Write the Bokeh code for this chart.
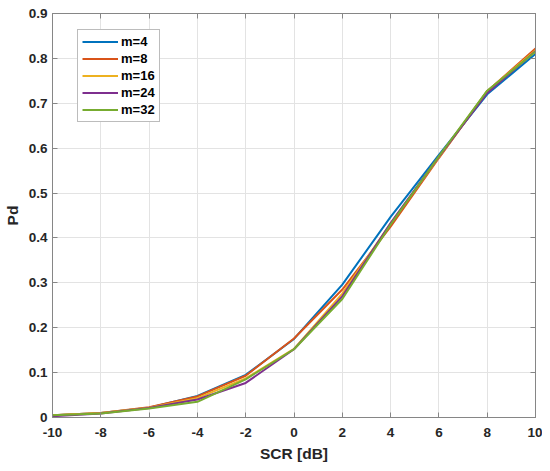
from bokeh.plotting import figure
from bokeh.models import LinearAxis, Range1d, FixedTicker, Legend, LegendItem, CustomJSTickFormatter
from bokeh.embed import file_html
from bokeh.resources import INLINE

scr = [-10, -8, -6, -4, -2, 0, 2, 4, 6, 8, 10]
pd_m4 = [0.005, 0.010, 0.022, 0.048, 0.095, 0.175, 0.296, 0.447, 0.585, 0.720, 0.810]
pd_m8 = [0.005, 0.010, 0.023, 0.047, 0.093, 0.176, 0.285, 0.425, 0.578, 0.727, 0.822]
pd_m16 = [0.005, 0.010, 0.022, 0.043, 0.087, 0.153, 0.276, 0.432, 0.580, 0.727, 0.818]
pd_m24 = [0.003, 0.009, 0.021, 0.040, 0.077, 0.152, 0.270, 0.433, 0.581, 0.723, 0.816]
pd_m32 = [0.005, 0.009, 0.020, 0.035, 0.085, 0.152, 0.264, 0.430, 0.582, 0.728, 0.815]
labels = ["m=4", "m=8", "m=16", "m=24", "m=32"]
colors = ["#0072BD", "#D95319", "#EDB120", "#7E2F8E", "#77AC30"]
series = [pd_m4, pd_m8, pd_m16, pd_m24, pd_m32]
xticks = [-10, -8, -6, -4, -2, 0, 2, 4, 6, 8, 10]
yticks = [0, 0.1, 0.2, 0.3, 0.4, 0.5, 0.6, 0.7, 0.8, 0.9]
xtick_labels = ["-10", "-8", "-6", "-4", "-2", "0", "2", "4", "6", "8", "10"]
ytick_labels = ["0", "0.1", "0.2", "0.3", "0.4", "0.5", "0.6", "0.7", "0.8", "0.9"]

FONT = "Liberation Sans"
TXT = "#262626"
AXC = "#868686"

p = figure(frame_width=483, frame_height=404, output_backend="svg",
           toolbar_location=None, x_range=Range1d(-10, 10), y_range=Range1d(0, 0.9),
           min_border_left=44, min_border_top=13, min_border_right=7, min_border_bottom=40)
p.outline_line_color = AXC
p.outline_line_width = 1
p.background_fill_color = "white"
p.border_fill_color = "white"

items = []
for lab, col, ys in zip(labels, colors, series):
    r = p.line(scr, ys, line_color=col, line_width=2)
    items.append(LegendItem(label=lab, renderers=[r]))

for ax in (p.xaxis[0], p.yaxis[0]):
    ax.major_label_text_font = FONT
    ax.major_label_text_font_style = "bold"
    ax.major_label_text_font_size = "13.5px"
    ax.major_label_text_color = TXT
    ax.axis_label_text_font = FONT
    ax.axis_label_text_font_style = "bold"
    ax.axis_label_text_font_size = "15.5px"
    ax.axis_label_text_color = TXT
    ax.axis_line_color = AXC
    ax.major_tick_line_color = AXC
    ax.major_tick_in = 5
    ax.major_tick_out = 0
    ax.minor_tick_line_color = None

p.xaxis[0].ticker = FixedTicker(ticks=xticks)
p.yaxis[0].ticker = FixedTicker(ticks=yticks)
p.xaxis[0].major_label_overrides = {t: s for t, s in zip(xticks, xtick_labels)}
p.yaxis[0].major_label_overrides = {t: s for t, s in zip(yticks, ytick_labels)}
p.xaxis[0].axis_label = "SCR [dB]"
p.yaxis[0].axis_label = "Pd"
p.xaxis[0].major_label_standoff = 10
p.yaxis[0].major_label_standoff = 5
p.xaxis[0].axis_label_standoff = 5
p.yaxis[0].axis_label_standoff = 5

blank = CustomJSTickFormatter(code="return '';")
for loc, tk in (("right", yticks), ("above", xticks)):
    a = LinearAxis(ticker=FixedTicker(ticks=tk), formatter=blank,
                   major_tick_in=5, major_tick_out=0, minor_tick_line_color=None,
                   axis_line_color=AXC, major_tick_line_color=AXC,
                   major_label_standoff=0)
    p.add_layout(a, loc)

p.xgrid.ticker = FixedTicker(ticks=xticks)
p.ygrid.ticker = FixedTicker(ticks=yticks)
p.grid.grid_line_color = "#E3E3E3"
p.grid.grid_line_width = 1

legend = Legend(items=items, location=(25, 295))
legend.label_text_font = FONT
legend.label_text_font_style = "bold"
legend.label_text_font_size = "13px"
legend.label_text_color = "#000000"
legend.glyph_width = 36
legend.glyph_height = 13
legend.label_height = 13
legend.spacing = 2
legend.padding = 4
legend.margin = 0
legend.label_standoff = 3
legend.border_line_color = "#7A7A7A"
legend.border_line_width = 1
legend.background_fill_color = "white"
legend.background_fill_alpha = 1
p.add_layout(legend, "center")

open("out.html", "w").write(file_html(p, INLINE))
